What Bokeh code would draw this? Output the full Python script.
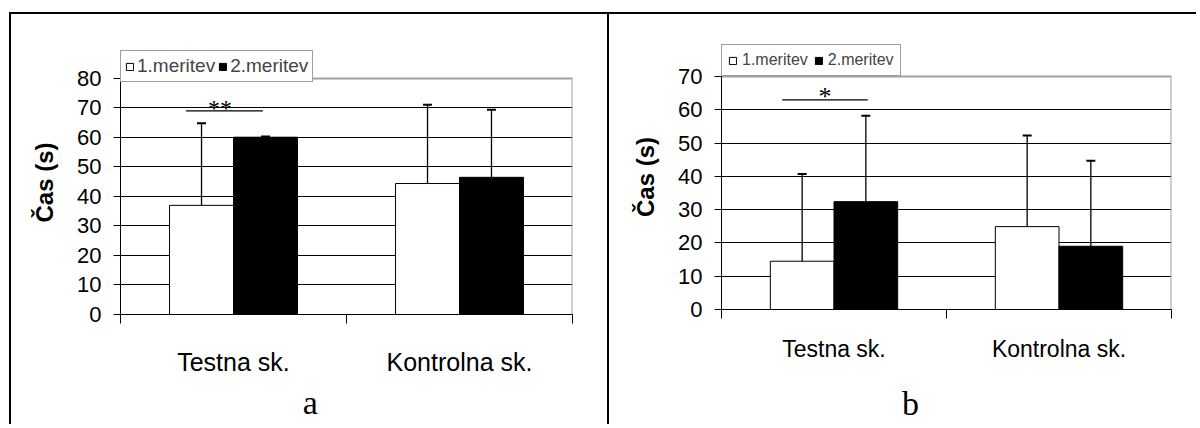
from bokeh.plotting import figure
from bokeh.models import (Range1d, FixedTicker, LinearAxis, ColumnDataSource, Whisker, TeeHead,
                          Legend, LegendItem, Grid)
from bokeh.layouts import row
from bokeh.transform import dodge
from bokeh.embed import file_html
from bokeh.resources import INLINE
from bokeh.core.properties import value

# ---------------- data ----------------
categories = ["Testna sk.", "Kontrolna sk."]
series_names = ["1.meritev", "2.meritev"]

# panel a
a_mean1 = [37.0, 44.4]
a_sd1 = [27.8, 26.7]
a_mean2 = [60.1, 46.5]
a_sd2 = [0.2, 22.9]
a_yticks = [0, 10, 20, 30, 40, 50, 60, 70, 80]
a_sig_x = [0.29, 0.63]
a_sig_y = 69
a_sig_mark = "**"
a_sig_mark_x = 0.44
a_letter = "a"

# panel b
b_mean1 = [14.5, 24.9]
b_sd1 = [26.2, 27.4]
b_mean2 = [32.4, 19.0]
b_sd2 = [25.8, 25.7]
b_yticks = [0, 10, 20, 30, 40, 50, 60, 70]
b_sig_x = [0.27, 0.65]
b_sig_y = 63
b_sig_mark = "*"
b_sig_mark_x = 0.46
b_letter = "b"

FONT = "Liberation Sans"
SERIF = "Liberation Serif"
BAR_W = 0.283
FRAME_GRAY = "#a0a0a0"
LETTER_X = 0.84   # horizontal position of the panel letter, in category units


def panel(mean1, sd1, mean2, sd2, yticks, sig_x, sig_y, sig_mark, sig_mark_x, letter,
          width, height, bl, br, bt, bb, legend_room, styles, leg_font, leg_pad,
          leg_standoff, leg_spacing, cat_font, cat_standoff, mark_font, letter_standoff):
    ymax = yticks[-1]
    ncat = len(categories)
    # frame extends above the top tick so the legend box can sit above the plot area
    p = figure(width=width, height=height, x_range=Range1d(0, ncat),
               y_range=Range1d(0, ymax + legend_room), output_backend="svg",
               toolbar_location=None, x_axis_type=None, y_axis_type=None,
               min_border_left=bl, min_border_right=br, min_border_top=bt, min_border_bottom=bb)
    p.frame_align = False
    p.title.text_font_size = "0px"
    p.title.standoff = 0
    p.background_fill_color = "white"
    p.border_fill_color = "white"
    p.outline_line_color = None
    p.styles = styles

    xs = [i + 0.5 for i in range(ncat)]
    src = ColumnDataSource(dict(
        x=xs, m1=mean1, m2=mean2,
        u1=[m + s for m, s in zip(mean1, sd1)],
        u2=[m + s for m, s in zip(mean2, sd2)],
        x1=[x - BAR_W / 2 for x in xs],
        x2=[x + BAR_W / 2 for x in xs],
    ))

    grid = Grid(dimension=1, ticker=FixedTicker(ticks=yticks[1:-1]),
                grid_line_color="black", grid_line_width=1)
    p.add_layout(grid)

    # plot-area border (top and right), grey
    p.segment(x0=[0, ncat], y0=[ymax, 0], x1=[ncat, ncat], y1=[ymax, ymax],
              line_color=FRAME_GRAY, line_width=2)

    r1 = p.vbar(x=dodge("x", -BAR_W / 2), top="m1", bottom=0, width=BAR_W, source=src,
                fill_color="white", line_color="black", line_width=1)
    r2 = p.vbar(x=dodge("x", BAR_W / 2), top="m2", bottom=0, width=BAR_W, source=src,
                fill_color="black", line_color="black", line_width=1)

    for xc, lo, up in (("x1", "m1", "u1"), ("x2", "m2", "u2")):
        w = Whisker(source=src, base=xc, lower=lo, upper=up, dimension="height",
                    lower_head=None,
                    upper_head=TeeHead(size=9, line_width=2, line_color="black"),
                    line_color="black", line_width=1.3, level="overlay")
        p.add_layout(w)

    # significance bracket
    p.line(x=sig_x, y=[sig_y, sig_y], line_color="black", line_width=1.2)
    p.text(x=[sig_mark_x], y=[sig_y], text=[sig_mark], text_align="center",
           text_baseline="alphabetic", y_offset=-3, text_font=value(SERIF),
           text_font_size=mark_font, text_color="black")

    yaxis = LinearAxis(ticker=FixedTicker(ticks=yticks), bounds=(0, ymax))
    yaxis.axis_label = "Čas (s)"
    yaxis.axis_label_text_font = FONT
    yaxis.axis_label_text_font_style = "bold"
    yaxis.axis_label_text_font_size = "24px"
    yaxis.axis_label_text_color = "black"
    yaxis.axis_label_standoff = 16
    yaxis.major_label_text_font = FONT
    yaxis.major_label_text_font_size = "22px"
    yaxis.major_label_text_color = "black"
    yaxis.major_label_standoff = 12
    yaxis.major_tick_out = 7
    yaxis.major_tick_in = 0
    yaxis.minor_tick_out = 0
    yaxis.minor_tick_in = 0
    yaxis.axis_line_color = "black"
    yaxis.major_tick_line_color = "black"
    p.add_layout(yaxis, "left")

    xaxis = LinearAxis(ticker=FixedTicker(ticks=xs, minor_ticks=list(range(ncat + 1))),
                       major_label_overrides={x: c for x, c in zip(xs, categories)})
    xaxis.major_label_text_font = FONT
    xaxis.major_label_text_font_size = cat_font
    xaxis.major_label_text_color = "black"
    xaxis.major_label_standoff = cat_standoff
    xaxis.major_tick_out = 0
    xaxis.major_tick_in = 0
    xaxis.minor_tick_out = 9
    xaxis.minor_tick_in = 0
    xaxis.minor_tick_line_color = "black"
    xaxis.axis_line_color = "black"
    p.add_layout(xaxis, "below")

    # panel letter (a / b) as a tick label of a bare second axis below
    laxis = LinearAxis(ticker=FixedTicker(ticks=[LETTER_X]),
                       major_label_overrides={LETTER_X: letter})
    laxis.axis_line_color = None
    laxis.major_tick_line_color = None
    laxis.minor_tick_line_color = None
    laxis.major_tick_out = 0
    laxis.major_tick_in = 0
    laxis.minor_tick_out = 0
    laxis.minor_tick_in = 0
    laxis.major_label_text_font = SERIF
    laxis.major_label_text_font_size = "34px"
    laxis.major_label_text_color = "black"
    laxis.major_label_standoff = letter_standoff
    p.add_layout(laxis, "below")

    legend = Legend(items=[LegendItem(label=series_names[0], renderers=[r1]),
                           LegendItem(label=series_names[1], renderers=[r2])],
                    orientation="horizontal", location="top_left", margin=0,
                    padding=leg_pad, spacing=leg_spacing, label_standoff=leg_standoff,
                    glyph_width=9, glyph_height=9, label_height=10,
                    label_text_font=FONT, label_text_font_size=leg_font,
                    border_line_color="#404040", border_line_width=1,
                    background_fill_color="white", background_fill_alpha=1)
    p.add_layout(legend)
    return p


# frame a: page x 120..572, y 50..314 (80 at y=78); frame b: x 723..1173, y 44..309 (70 at y=76)
pa = panel(a_mean1, a_sd1, a_mean2, a_sd2, a_yticks, a_sig_x, a_sig_y, a_sig_mark, a_sig_mark_x,
           a_letter, width=598, height=412, bl=109, br=37, bt=36, bb=112, legend_room=9.49,
           styles={"border-top": "2px solid black", "border-left": "2px solid black",
                   "margin-top": "12px", "margin-left": "9px"},
           leg_font="19px", leg_pad=4, leg_standoff=3, leg_spacing=3,
           cat_font="25px", cat_standoff=24, mark_font="24px", letter_standoff=5)
pb = panel(b_mean1, b_sd1, b_mean2, b_sd2, b_yticks, b_sig_x, b_sig_y, b_sig_mark, b_sig_mark_x,
           b_letter, width=589, height=412, bl=112, br=27, bt=30, bb=117, legend_room=9.61,
           styles={"border-top": "2px solid black", "border-left": "2px solid black",
                   "margin-top": "12px"},
           leg_font="16px", leg_pad=6, leg_standoff=5, leg_spacing=6,
           cat_font="23px", cat_standoff=17, mark_font="26px", letter_standoff=20)

layout = row(pa, pb)
open("out.html", "w").write(file_html(layout, INLINE))
